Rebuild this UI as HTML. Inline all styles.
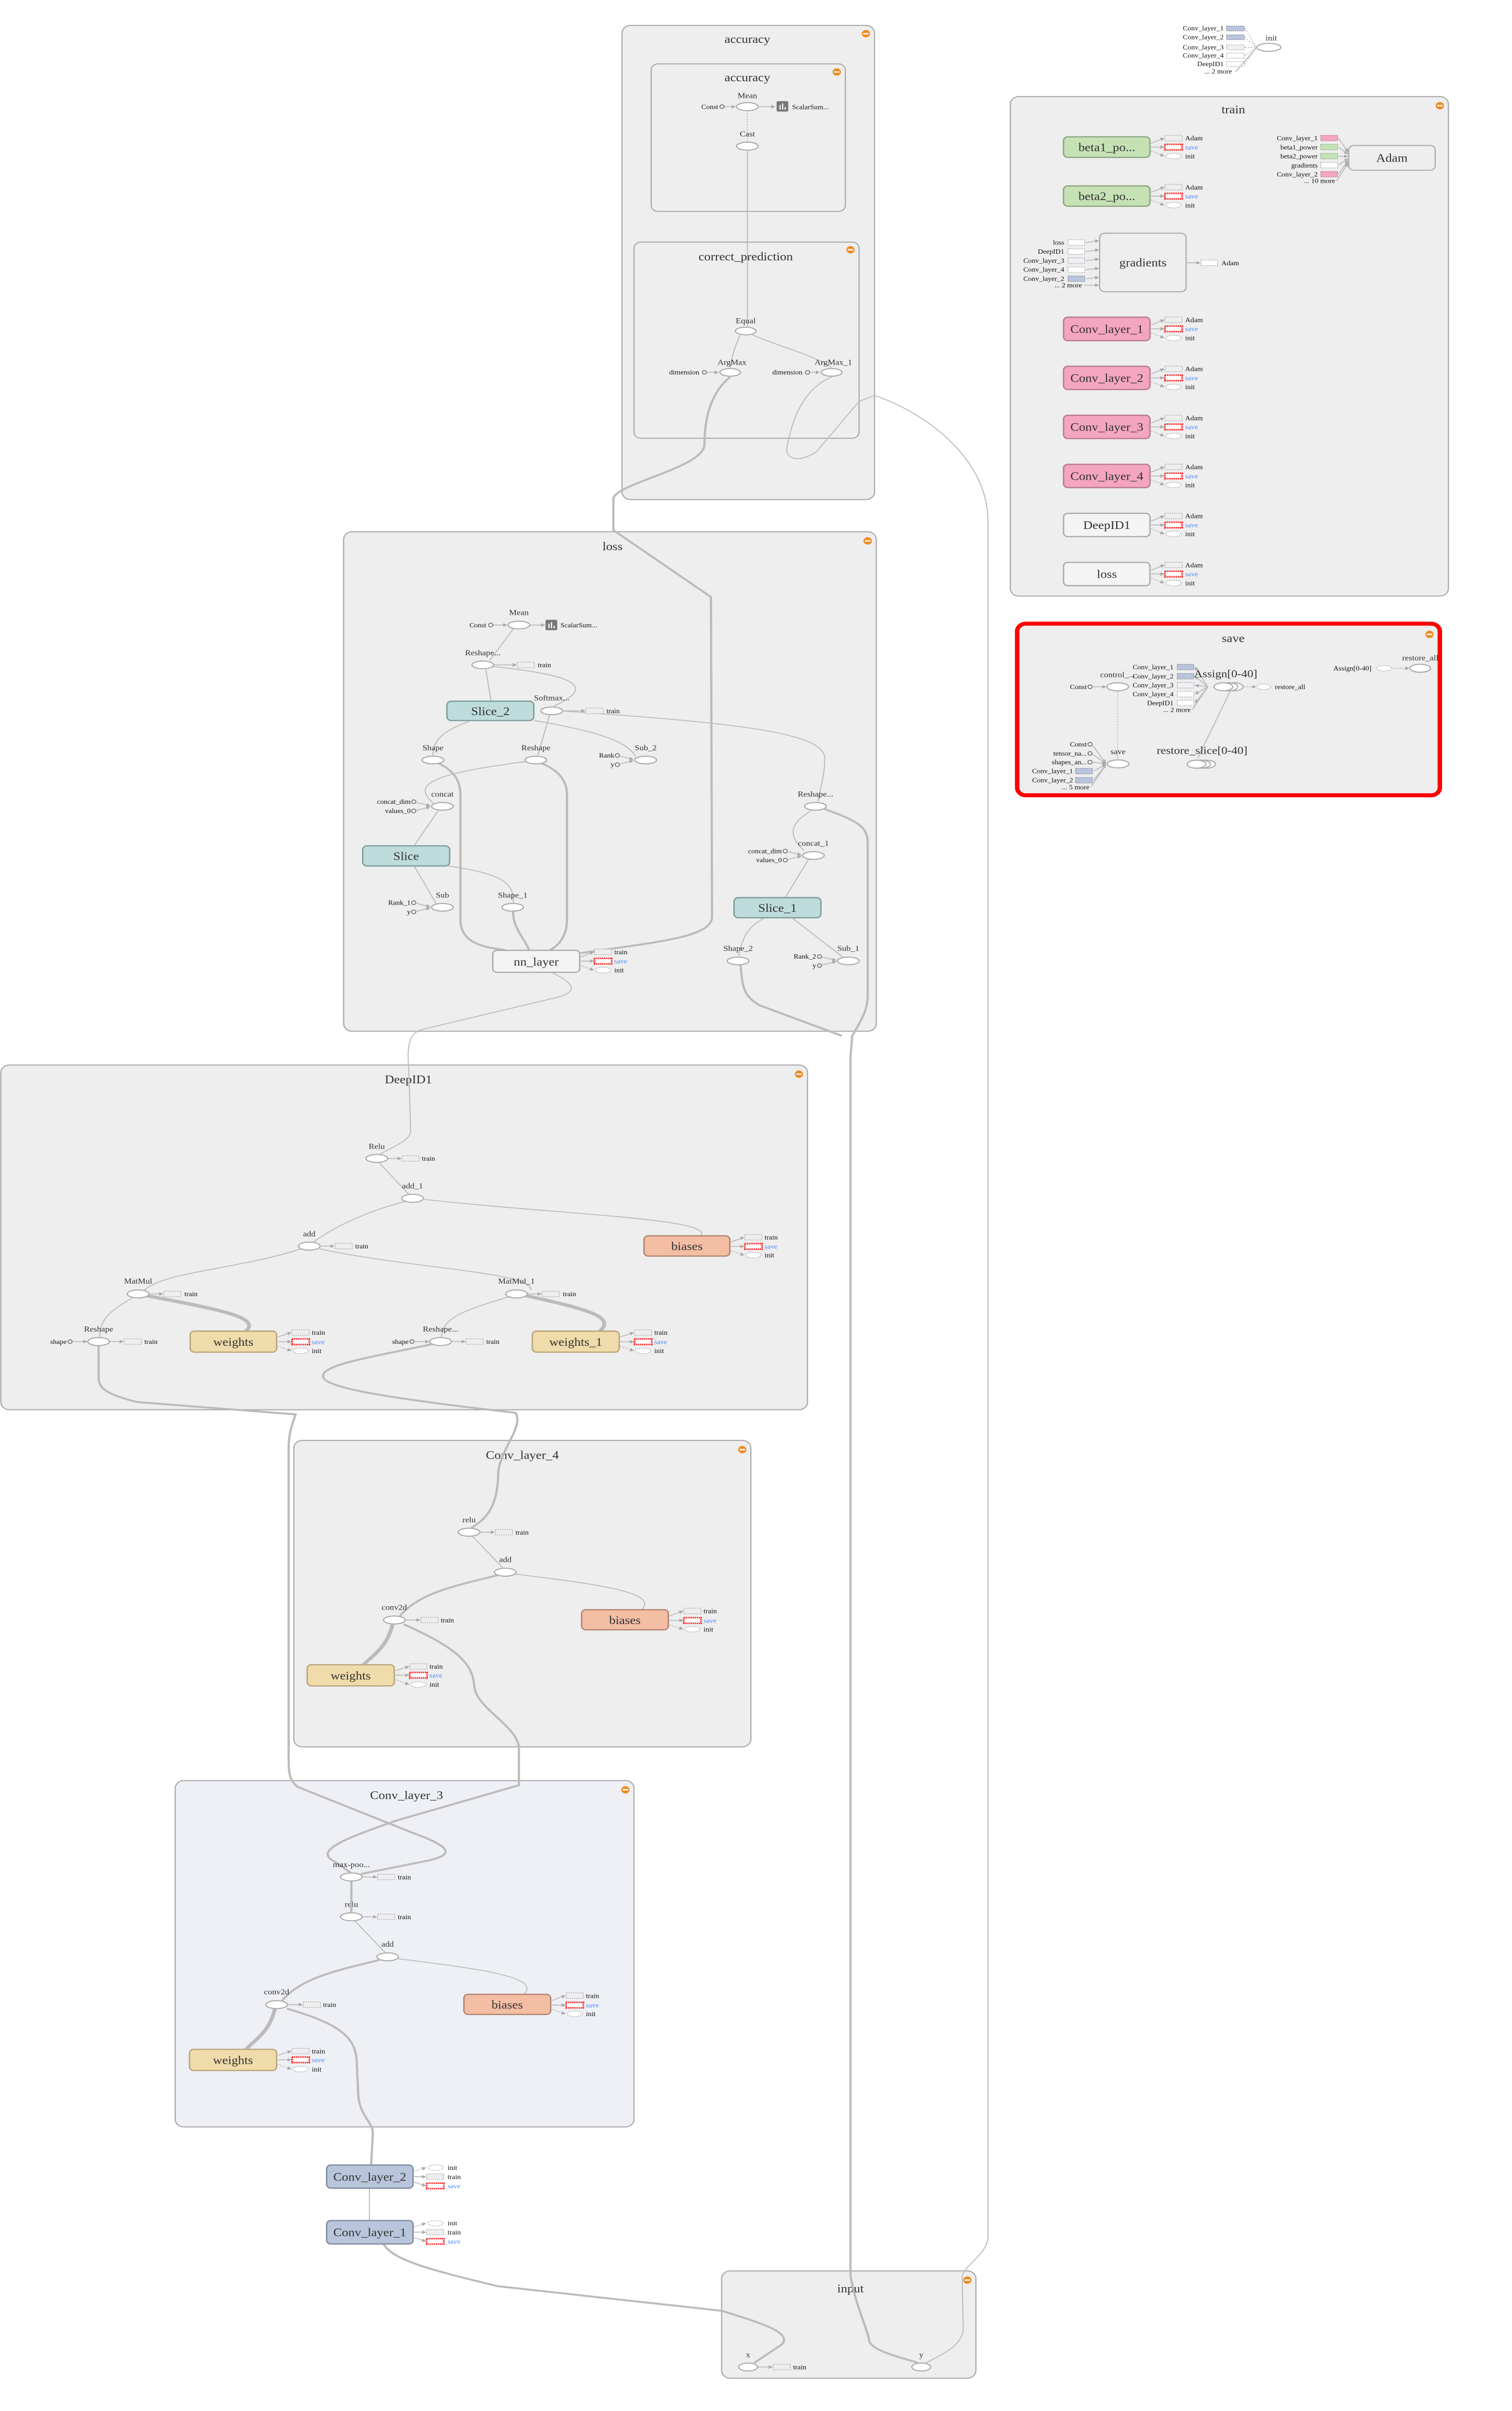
<!DOCTYPE html>
<html><head><meta charset="utf-8"><style>
html,body{margin:0;padding:0;background:#fff;width:100%;height:100%;overflow:hidden}
svg{display:block;position:fixed;left:0;top:0;width:100vw;height:100vh}
.c{fill:#eee;stroke:#aaa;stroke-width:0.7}
.e{fill:#fff;stroke:#aaa;stroke-width:0.7}
.k{fill:#fff;stroke:#777;stroke-width:0.6}
.ed{fill:none;stroke:#bbb;stroke-width:0.6}
.tk{fill:none;stroke:#bbb;stroke-width:1.3}
.tk2{fill:none;stroke:#bbb;stroke-width:2.2}
.dsh{fill:none;stroke:#bbb;stroke-width:0.5;stroke-dasharray:1 0.8}
text{font-family:"Liberation Serif",serif;fill:#333}
.T{font-size:7.5px;text-anchor:middle}
.L{font-size:5px;text-anchor:middle}
.s{font-size:4.2px;fill:#111}
.r{font-size:4.2px;fill:#111;text-anchor:end}
.sv{font-size:4.2px;fill:#4a8af4}
.B{font-size:7.5px;text-anchor:middle}
.db{fill:#eee;stroke:#aaa;stroke-width:0.4;stroke-dasharray:0.8 0.5}
.svb{fill:#fff;stroke:#f00;stroke-width:1;stroke-dasharray:0.6 0.5}
.de{fill:#fff;stroke:#aaa;stroke-width:0.4;stroke-dasharray:0.8 0.5}
.gr{fill:#c6e2b5;stroke:#8aa57d;stroke-width:0.8}
.pk{fill:#f4a5bf;stroke:#b77a8e;stroke-width:0.8}
.tl{fill:#bfdcdc;stroke:#7c9c9c;stroke-width:0.8}
.tn{fill:#f0dbaa;stroke:#b8a478;stroke-width:0.8}
.sa{fill:#f4bea4;stroke:#b08470;stroke-width:0.8}
.bg{fill:#b9c5dc;stroke:#7f8aa0;stroke-width:0.8}
.wh{fill:#f4f4f4;stroke:#aaa;stroke-width:0.8}
</style></head><body>
<svg viewBox="0 0 880 1573.4" preserveAspectRatio="none" xmlns="http://www.w3.org/2000/svg">
<defs>
<marker id="a" viewBox="0 0 10 10" refX="9" refY="5" markerWidth="4" markerHeight="4" orient="auto"><path d="M0,0L10,5L0,10z" fill="#aaa"/></marker>
<g id="m"><circle r="2.4" fill="#ef8a22"/><rect x="-1.6" y="-0.45" width="3.2" height="0.9" fill="#fff"/></g>
</defs>

<rect class="c" x="362" y="16.6" width="147" height="309.4" rx="5"/>
<use href="#m" x="504" y="22"/>
<text class="T" x="435" y="28">accuracy</text>
<rect class="c" x="379" y="41.7" width="113" height="96.3" rx="4"/>
<use href="#m" x="487" y="47"/>
<text class="T" x="435" y="53">accuracy</text>
<rect class="c" x="369" y="158" width="131" height="128" rx="4"/>
<use href="#m" x="495" y="163"/>
<text class="T" x="434" y="170">correct_prediction</text>

<rect class="c" x="200" y="347" width="310" height="326" rx="5"/>
<use href="#m" x="505" y="353"/>
<text class="T" x="356.5" y="359">loss</text>

<rect class="c" x="588" y="63" width="255" height="326" rx="5"/>
<use href="#m" x="838" y="69"/>
<text class="T" x="717.8" y="74">train</text>

<rect x="592" y="407" width="246" height="112" rx="5" fill="#eee" stroke="#f00" stroke-width="2.6"/>
<use href="#m" x="832" y="414"/>
<text class="T" x="717.7" y="419">save</text>

<rect class="c" x="0.5" y="695" width="469.5" height="225" rx="5"/>
<use href="#m" x="465" y="701"/>
<text class="T" x="237.7" y="707">DeepID1</text>

<rect class="c" x="171" y="940" width="266" height="200" rx="5"/>
<use href="#m" x="432" y="946"/>
<text class="T" x="304" y="952">Conv_layer_4</text>

<rect x="102" y="1162" width="267" height="226" rx="5" fill="#eef0f5" stroke="#aaa" stroke-width="0.7"/>
<use href="#m" x="364" y="1168"/>
<text class="T" x="236.6" y="1174">Conv_layer_3</text>

<rect class="c" x="420" y="1482" width="148" height="70" rx="5"/>
<use href="#m" x="563" y="1488"/>
<text class="T" x="495" y="1496">input</text>

<path class="tk" d="M425,246 C415,255 410,270 410,290 C410,305 360,315 357,325 L357,346 L413.8,389.6 L414.4,598.6 C414,612 380,615 338,622"/>
<path class="ed" d="M484,246 C465,255 460,280 458,292 C457,300 465,302 475,295 L500,262 L509,258 C540,270 575,300 575,340 L575,1460 C575,1470 562,1478 560,1485 L560.6,1520 C560,1532 545,1538 539,1542"/>
<path class="dsh" d="M435,72 L435,93"/>
<path class="ed" d="M435,98 L435,213"/>
<path class="tk" d="M480,528 C500,536 505,540 505,550 L505,650 C505,660 500,668 496,676 L495,690 L495,1485 C498,1505 505,1520 506,1528 C508,1535 530,1540 534,1542"/>
<path class="tk" d="M431,629 C432,645 433,650 442,656 L490,676"/>
<path class="ed" d="M321,634.6 C335,642 338,648 320,652 L245,672 C237,675 237,685 238,700 L239,738 C239,745 225,750 220,754"/>
<path class="tk" d="M57.4,878 L57.4,899 C57.4,906 62,910 80,915 L172,923 C170,930 168,935 168,945 L168,1150 C168,1160 170,1163 173,1166 L240,1196 C262,1205 265,1210 250,1214 L210,1223"/>
<path class="tk" d="M252,877 C220,885 188,890 188,898 C188,906 230,913 300,922 C305,930 292,945 290,960 C290,985 282,992 273,998"/>
<path class="tk" d="M235,1060 C265,1075 275,1085 276,1100 C277,1115 300,1125 302,1140 L302,1165 L231,1188 C200,1200 182,1208 195,1215 L204,1222"/>
<path class="tk" d="M167,1310.8 C195,1320 207,1328 207.6,1345 L208.5,1367 C209,1380 217,1385 217,1392 L216,1413"/>
<path class="ed" d="M215,1428 L215,1449"/>
<path class="tk" d="M223,1464 C228,1474 245,1480 290,1492 L420,1508 C440,1515 462,1522 455,1530 L439,1542"/>

<text class="L" x="435" y="64">Mean</text>
<line class="ed" x1="421.5" y1="69.6" x2="428" y2="69.6" marker-end="url(#a)"/>
<line class="ed" x1="441.5" y1="69.6" x2="451" y2="69.6" marker-end="url(#a)"/>
<ellipse class="e" cx="435" cy="69.6" rx="6.3" ry="2.6"/>
<text class="r" x="418" y="71.2">Const</text><circle class="k" cx="420.2" cy="69.6" r="1.2"/>
<rect x="452" y="66" width="6.8" height="6.8" rx="0.8" fill="#777"/>
<path d="M454,71.5v-3M455.5,71.5v-4M457,71.5v-1.6" stroke="#fff" stroke-width="0.7"/>
<text class="s" x="461" y="71.3">ScalarSum...</text>
<text class="L" x="435" y="89">Cast</text>
<ellipse class="e" cx="435" cy="95.4" rx="6.3" ry="2.6"/>
<text class="L" x="434" y="211">Equal</text>
<ellipse class="e" cx="434" cy="216" rx="6" ry="2.5"/>
<path class="ed" d="M431,218 C428,225 426,232 425,240"/>
<path class="ed" d="M437,218 C450,225 475,232 484,240"/>
<text class="L" x="426" y="238">ArgMax</text>
<ellipse class="e" cx="425" cy="243" rx="6" ry="2.5"/>
<text class="r" x="407" y="244.4">dimension</text><circle class="k" cx="410" cy="243" r="1.2"/>
<line class="ed" x1="411.3" y1="243" x2="418" y2="243" marker-end="url(#a)"/>
<text class="L" x="485" y="238">ArgMax_1</text>
<ellipse class="e" cx="484" cy="243" rx="6" ry="2.5"/>
<text class="r" x="467" y="244.4">dimension</text><circle class="k" cx="470" cy="243" r="1.2"/>
<line class="ed" x1="471.3" y1="243" x2="477" y2="243" marker-end="url(#a)"/>

<path class="ed" d="M299,410 L285,431"/>
<path class="ed" d="M282.8,437 L285.8,457.6"/>
<path class="ed" d="M287,435 C330,440 350,447 322,461"/>
<path class="ed" d="M272.7,470.9 C255,478 252,485 252,493"/>
<path class="ed" d="M320,466 L313,493"/>
<path class="ed" d="M311,470.2 C340,476 365,482 370,494"/>
<path class="ed" d="M328,464 C430,472 480,478 480,495 C480,505 478,512 476,523"/>
<path class="tk" d="M255.6,498.3 C268,505 268,515 268,520 L268,600 C268,615 280,618 294,620"/>
<path class="ed" d="M306,497 C250,505 240,512 252,524"/>
<path class="tk" d="M315,498 C330,505 330,515 330,520 L330,600 C330,612 324,618 320,620"/>
<path class="ed" d="M255,529 L241,552"/>
<path class="ed" d="M241,565 L254,590"/>
<path class="ed" d="M260.7,565.1 C290,570 300,575 298.7,590"/>
<path class="tk" d="M298.7,594 C298,605 305,612 308,620"/>
<path class="ed" d="M472.2,529 C460,537 458,545 468,555"/>
<path class="ed" d="M471,560 L457,585.8"/>
<path class="ed" d="M445,598.9 C435,605 432,612 430,624"/>
<path class="ed" d="M461,599 L491,625"/>

<text class="L" x="302" y="401.4">Mean</text>
<line class="ed" x1="286.8" y1="407.9" x2="295" y2="407.9" marker-end="url(#a)"/>
<line class="ed" x1="308.5" y1="407.9" x2="317" y2="407.9" marker-end="url(#a)"/>
<ellipse class="e" cx="302" cy="407.9" rx="6.3" ry="2.5"/>
<text class="r" x="283" y="409.4">Const</text><circle class="k" cx="285.6" cy="407.9" r="1.2"/>
<rect x="317.5" y="404.5" width="6.8" height="6.8" rx="0.8" fill="#777"/>
<path d="M319.5,410v-3M321,410v-4M322.5,410v-1.6" stroke="#fff" stroke-width="0.7"/>
<text class="s" x="326.2" y="409.4">ScalarSum...</text>

<text class="L" x="281" y="427.6">Reshape...</text>
<ellipse class="e" cx="281" cy="433.9" rx="6.3" ry="2.5"/>
<line class="ed" x1="287.5" y1="433.9" x2="300.5" y2="433.9" marker-end="url(#a)"/>
<rect class="db" x="301" y="432.1" width="10" height="3.6"/><text class="s" x="313" y="435.4">train</text>

<rect class="tl" x="260.1" y="457.6" width="50.6" height="12.6" rx="2.5"/>
<text class="B" x="285.4" y="466.6">Slice_2</text>
<text class="L" x="321.1" y="457.1">Softmax...</text>
<ellipse class="e" cx="321.1" cy="463.9" rx="6.3" ry="2.5"/>
<line class="ed" x1="327.5" y1="463.9" x2="340.5" y2="463.9" marker-end="url(#a)"/>
<rect class="db" x="341" y="462.1" width="10" height="3.6"/><text class="s" x="353" y="465.4">train</text>

<text class="L" x="252" y="489.7">Shape</text><ellipse class="e" cx="252" cy="496" rx="6.3" ry="2.5"/>
<text class="L" x="311.9" y="489.7">Reshape</text><ellipse class="e" cx="311.9" cy="496" rx="6.3" ry="2.5"/>
<text class="L" x="375.8" y="489.7">Sub_2</text><ellipse class="e" cx="375.8" cy="496" rx="6.3" ry="2.5"/>
<text class="r" x="357.5" y="494.4">Rank</text><circle class="k" cx="359.3" cy="493" r="1.2"/>
<text class="r" x="357.5" y="500.4">y</text><circle class="k" cx="359.3" cy="499" r="1.2"/>
<line class="ed" x1="360.5" y1="493.3" x2="368.5" y2="495.6" marker-end="url(#a)"/>
<line class="ed" x1="360.5" y1="498.7" x2="368.5" y2="496.4" marker-end="url(#a)"/>

<text class="L" x="257.5" y="519.9">concat</text><ellipse class="e" cx="257.5" cy="526.2" rx="6.3" ry="2.5"/>
<text class="r" x="239" y="524.6">concat_dim</text><circle class="k" cx="240.8" cy="523.2" r="1.2"/>
<text class="r" x="239" y="530.6">values_0</text><circle class="k" cx="240.8" cy="529.2" r="1.2"/>
<line class="ed" x1="242" y1="523.5" x2="250.3" y2="525.8" marker-end="url(#a)"/>
<line class="ed" x1="242" y1="528.9" x2="250.3" y2="526.6" marker-end="url(#a)"/>

<rect class="tl" x="211.1" y="552" width="50.6" height="13.1" rx="2.5"/>
<text class="B" x="236.4" y="561.3">Slice</text>

<text class="L" x="257.5" y="585.8">Sub</text><ellipse class="e" cx="257.5" cy="592.1" rx="6.3" ry="2.5"/>
<text class="r" x="239" y="590.5">Rank_1</text><circle class="k" cx="240.8" cy="589.1" r="1.2"/>
<text class="r" x="239" y="596.5">y</text><circle class="k" cx="240.8" cy="595.1" r="1.2"/>
<line class="ed" x1="242" y1="589.4" x2="250.3" y2="591.7" marker-end="url(#a)"/>
<line class="ed" x1="242" y1="594.8" x2="250.3" y2="592.5" marker-end="url(#a)"/>
<text class="L" x="298.4" y="585.8">Shape_1</text><ellipse class="e" cx="298.4" cy="592.1" rx="6.3" ry="2.5"/>

<rect class="wh" x="286.8" y="620.2" width="50.6" height="14.3" rx="2.5"/>
<text class="B" x="312.1" y="630.2">nn_layer</text>
<line class="ed" x1="338" y1="624.5" x2="345.5" y2="621.2" marker-end="url(#a)"/>
<line class="ed" x1="338" y1="627.2" x2="345.5" y2="627.2" marker-end="url(#a)"/>
<line class="ed" x1="338" y1="630" x2="345.5" y2="633.1" marker-end="url(#a)" stroke-dasharray="0.8 0.6"/>
<rect class="db" x="346" y="619.4" width="10" height="3.6"/><text class="s" x="357.5" y="622.7">train</text>
<rect class="svb" x="346" y="625.4" width="10" height="3.6"/><text class="sv" x="357.5" y="628.7">save</text>
<ellipse class="de" cx="351" cy="633.1" rx="4.5" ry="1.8"/><text class="s" x="357.5" y="634.6">init</text>

<text class="L" x="474.6" y="519.9">Reshape...</text><ellipse class="e" cx="474.6" cy="526.2" rx="6.3" ry="2.5"/>
<text class="L" x="473.4" y="552">concat_1</text><ellipse class="e" cx="473.4" cy="558.3" rx="6.3" ry="2.5"/>
<text class="r" x="455" y="556.8">concat_dim</text><circle class="k" cx="457" cy="555.4" r="1.2"/>
<text class="r" x="455" y="562.7">values_0</text><circle class="k" cx="457" cy="561.3" r="1.2"/>
<line class="ed" x1="458.2" y1="555.7" x2="466.3" y2="557.9" marker-end="url(#a)"/>
<line class="ed" x1="458.2" y1="561" x2="466.3" y2="558.7" marker-end="url(#a)"/>
<rect class="tl" x="427.2" y="585.8" width="50.6" height="13.1" rx="2.5"/>
<text class="B" x="452.5" y="595.1">Slice_1</text>
<text class="L" x="429.6" y="620.6">Shape_2</text><ellipse class="e" cx="429.6" cy="627.1" rx="6.3" ry="2.5"/>
<text class="L" x="493.7" y="620.6">Sub_1</text><ellipse class="e" cx="493.7" cy="627.1" rx="6.3" ry="2.5"/>
<text class="r" x="475" y="625.6">Rank_2</text><circle class="k" cx="477" cy="624.2" r="1.2"/>
<text class="r" x="475" y="631.5">y</text><circle class="k" cx="477" cy="630.1" r="1.2"/>
<line class="ed" x1="478.2" y1="624.5" x2="486.6" y2="626.7" marker-end="url(#a)"/>
<line class="ed" x1="478.2" y1="629.8" x2="486.6" y2="627.5" marker-end="url(#a)"/>

<path class="ed" d="M220,758 L238,779.5"/>
<path class="ed" d="M236,784 C215,790 195,800 182,811"/>
<path class="ed" d="M246.9,782.7 C330,793 415,795 408,806.5"/>
<path class="ed" d="M175,815 C140,828 95,830 84,842"/>
<path class="ed" d="M186,815 C240,828 310,830 309,842"/>
<path class="ed" d="M77,847 C65,855 58,860 58,873"/>
<path class="tk2" d="M85,845.5 C130,855 152,860 143,868.7"/>
<path class="ed" d="M297,846 C270,855 257,860 257,873"/>
<path class="tk2" d="M306,845.5 C345,855 358,860 349,868.7"/>

<text class="L" x="219.3" y="749.7">Relu</text><ellipse class="e" cx="219.3" cy="756" rx="6.3" ry="2.6"/>
<line class="ed" x1="225.7" y1="756" x2="233.5" y2="756" marker-end="url(#a)"/>
<rect class="db" x="234" y="754.2" width="10" height="3.6"/><text class="s" x="245.5" y="757.5">train</text>
<text class="L" x="240.1" y="775.5">add_1</text><ellipse class="e" cx="240.1" cy="782" rx="6.3" ry="2.6"/>
<text class="L" x="180" y="806.8">add</text><ellipse class="e" cx="180" cy="813.2" rx="6.3" ry="2.6"/>
<line class="ed" x1="186.4" y1="813.2" x2="194.5" y2="813.2" marker-end="url(#a)"/>
<rect class="db" x="195" y="811.4" width="10" height="3.6"/><text class="s" x="206.7" y="814.7">train</text>

<rect class="sa" x="374.8" y="806.5" width="50" height="13.2" rx="2.5"/>
<text class="B" x="399.8" y="815.8">biases</text>
<line class="ed" x1="425.5" y1="810.5" x2="433" y2="807.4" marker-end="url(#a)"/>
<line class="ed" x1="425.5" y1="813.4" x2="433" y2="813.4" marker-end="url(#a)"/>
<line class="ed" x1="425.5" y1="816.3" x2="433" y2="819.1" marker-end="url(#a)" stroke-dasharray="0.8 0.6"/>
<rect class="db" x="433.5" y="805.6" width="10" height="3.6"/><text class="s" x="445" y="808.9">train</text>
<rect class="svb" x="433.5" y="811.6" width="10" height="3.6"/><text class="sv" x="445" y="814.9">save</text>
<ellipse class="de" cx="438.5" cy="819.1" rx="4.5" ry="1.8"/><text class="s" x="445" y="820.6">init</text>

<text class="L" x="80.4" y="837.7">MatMul</text><ellipse class="e" cx="80.4" cy="844.4" rx="6.3" ry="2.6"/>
<line class="ed" x1="86.8" y1="844.4" x2="94.8" y2="844.4" marker-end="url(#a)"/>
<rect class="db" x="95.3" y="842.6" width="10" height="3.6"/><text class="s" x="107.3" y="845.9">train</text>
<text class="L" x="300.6" y="837.7">MatMul_1</text><ellipse class="e" cx="300.6" cy="844.4" rx="6.3" ry="2.6"/>
<line class="ed" x1="307" y1="844.4" x2="315" y2="844.4" marker-end="url(#a)"/>
<rect class="db" x="315.5" y="842.6" width="10" height="3.6"/><text class="s" x="327.6" y="845.9">train</text>

<text class="L" x="57.4" y="869">Reshape</text><ellipse class="e" cx="57.4" cy="875.5" rx="6.3" ry="2.6"/>
<text class="r" x="38.8" y="877">shape</text><circle class="k" cx="40.8" cy="875.5" r="1.2"/>
<line class="ed" x1="42" y1="875.5" x2="50.6" y2="875.5" marker-end="url(#a)"/>
<line class="ed" x1="63.8" y1="875.5" x2="71.8" y2="875.5" marker-end="url(#a)"/>
<rect class="db" x="72.3" y="873.7" width="10" height="3.6"/><text class="s" x="84" y="877">train</text>

<rect class="tn" x="110.7" y="868.7" width="50.3" height="13.7" rx="2.5"/>
<text class="B" x="135.8" y="878.2">weights</text>
<line class="ed" x1="161.7" y1="872.5" x2="169.5" y2="869.6" marker-end="url(#a)"/>
<line class="ed" x1="161.7" y1="875.6" x2="169.5" y2="875.6" marker-end="url(#a)"/>
<line class="ed" x1="161.7" y1="878.6" x2="169.5" y2="881.5" marker-end="url(#a)" stroke-dasharray="0.8 0.6"/>
<rect class="db" x="170" y="867.8" width="10" height="3.6"/><text class="s" x="181.5" y="871.1">train</text>
<rect class="svb" x="170" y="873.8" width="10" height="3.6"/><text class="sv" x="181.5" y="877.1">save</text>
<ellipse class="de" cx="175" cy="881.5" rx="4.5" ry="1.8"/><text class="s" x="181.5" y="883">init</text>

<text class="L" x="256.4" y="869">Reshape...</text><ellipse class="e" cx="256.4" cy="875.5" rx="6.3" ry="2.6"/>
<text class="r" x="237.8" y="877">shape</text><circle class="k" cx="239.8" cy="875.5" r="1.2"/>
<line class="ed" x1="241" y1="875.5" x2="249.6" y2="875.5" marker-end="url(#a)"/>
<line class="ed" x1="262.8" y1="875.5" x2="270.8" y2="875.5" marker-end="url(#a)"/>
<rect class="db" x="271.3" y="873.7" width="10" height="3.6"/><text class="s" x="283" y="877">train</text>

<rect class="tn" x="309.8" y="868.7" width="50.6" height="13.7" rx="2.5"/>
<text class="B" x="335.1" y="878.2">weights_1</text>
<line class="ed" x1="361" y1="872.5" x2="368.8" y2="869.6" marker-end="url(#a)"/>
<line class="ed" x1="361" y1="875.6" x2="368.8" y2="875.6" marker-end="url(#a)"/>
<line class="ed" x1="361" y1="878.6" x2="368.8" y2="881.5" marker-end="url(#a)" stroke-dasharray="0.8 0.6"/>
<rect class="db" x="369.3" y="867.8" width="10" height="3.6"/><text class="s" x="380.8" y="871.1">train</text>
<rect class="svb" x="369.3" y="873.8" width="10" height="3.6"/><text class="sv" x="380.8" y="877.1">save</text>
<ellipse class="de" cx="374.3" cy="881.5" rx="4.5" ry="1.8"/><text class="s" x="380.8" y="883">init</text>

<g id="cv">
<path class="ed" d="M206,1253 L224,1274"/>
<path class="tk" d="M221,1279 C200,1285 175,1290 164,1306"/>
<path class="ed" d="M230,1278 C280,1285 315,1290 305,1301.5"/>
<path class="tk2" d="M160,1311 C157,1325 150,1330 143,1337.4"/>
<text class="L" x="204.5" y="1244.4">relu</text><ellipse class="e" cx="204.5" cy="1250.9" rx="6.3" ry="2.6"/>
<line class="ed" x1="210.9" y1="1250.9" x2="219.3" y2="1250.9" marker-end="url(#a)"/>
<rect class="db" x="219.8" y="1249.1" width="10" height="3.6"/><text class="s" x="231.5" y="1252.4">train</text>
<text class="L" x="225.6" y="1270.4">add</text><ellipse class="e" cx="225.6" cy="1277" rx="6.3" ry="2.6"/>
<text class="L" x="161" y="1301.5">conv2d</text><ellipse class="e" cx="161" cy="1308.2" rx="6.3" ry="2.6"/>
<line class="ed" x1="167.4" y1="1308.2" x2="176" y2="1308.2" marker-end="url(#a)"/>
<rect class="db" x="176.5" y="1306.4" width="10" height="3.6"/><text class="s" x="188" y="1309.7">train</text>
<rect class="sa" x="270" y="1301.5" width="50.5" height="13.1" rx="2.5"/>
<text class="B" x="295.2" y="1310.8">biases</text>
<line class="ed" x1="321.2" y1="1305.5" x2="329" y2="1302.3" marker-end="url(#a)"/>
<line class="ed" x1="321.2" y1="1308.5" x2="329" y2="1308.5" marker-end="url(#a)"/>
<line class="ed" x1="321.2" y1="1311.4" x2="329" y2="1314.2" marker-end="url(#a)" stroke-dasharray="0.8 0.6"/>
<rect class="db" x="329.5" y="1300.5" width="10" height="3.6"/><text class="s" x="341" y="1303.8">train</text>
<rect class="svb" x="329.5" y="1306.7" width="10" height="3.6"/><text class="sv" x="341" y="1310">save</text>
<ellipse class="de" cx="334.5" cy="1314.2" rx="4.5" ry="1.8"/><text class="s" x="341" y="1315.7">init</text>
<rect class="tn" x="110.3" y="1337.4" width="50.7" height="13.8" rx="2.5"/>
<text class="B" x="135.6" y="1347">weights</text>
<line class="ed" x1="161.7" y1="1341.3" x2="169.5" y2="1338.5" marker-end="url(#a)"/>
<line class="ed" x1="161.7" y1="1344.2" x2="169.5" y2="1344.2" marker-end="url(#a)"/>
<line class="ed" x1="161.7" y1="1347.2" x2="169.5" y2="1350.3" marker-end="url(#a)" stroke-dasharray="0.8 0.6"/>
<rect class="db" x="170" y="1336.7" width="10" height="3.6"/><text class="s" x="181.5" y="1340">train</text>
<rect class="svb" x="170" y="1342.4" width="10" height="3.6"/><text class="sv" x="181.5" y="1345.7">save</text>
<ellipse class="de" cx="175" cy="1350.3" rx="4.5" ry="1.8"/><text class="s" x="181.5" y="1351.8">init</text>
</g>
<path class="tk" d="M204.5,1227.5 L204.5,1248.3"/>
<text class="L" x="204.5" y="1218.4">max-poo...</text><ellipse class="e" cx="204.5" cy="1224.9" rx="6.3" ry="2.6"/>
<line class="ed" x1="210.9" y1="1224.9" x2="219.3" y2="1224.9" marker-end="url(#a)"/>
<rect class="db" x="219.8" y="1223.1" width="10" height="3.6"/><text class="s" x="231.5" y="1226.4">train</text>

<use href="#cv" x="68.5" y="-251"/>

<rect class="bg" x="190.1" y="1412.9" width="50.3" height="15.1" rx="2.5"/>
<text class="B" x="215.2" y="1423.1">Conv_layer_2</text>
<line class="ed" x1="241" y1="1417" x2="247.8" y2="1414.6" marker-end="url(#a)" stroke-dasharray="0.8 0.6"/>
<line class="ed" x1="241" y1="1420.5" x2="247.8" y2="1420.5" marker-end="url(#a)"/>
<line class="ed" x1="241" y1="1424" x2="247.8" y2="1426.5" marker-end="url(#a)"/>
<ellipse class="de" cx="253.5" cy="1414.6" rx="4.5" ry="1.8"/><text class="s" x="260.5" y="1416">init</text>
<rect class="db" x="248.3" y="1418.7" width="10" height="3.6"/><text class="s" x="260.5" y="1422">train</text>
<rect class="svb" x="248.3" y="1424.7" width="10" height="3.6"/><text class="sv" x="260.5" y="1428">save</text>

<rect class="bg" x="190.1" y="1449.1" width="50.3" height="15.3" rx="2.5"/>
<text class="B" x="215.2" y="1459.4">Conv_layer_1</text>
<line class="ed" x1="241" y1="1453.2" x2="247.8" y2="1450.9" marker-end="url(#a)" stroke-dasharray="0.8 0.6"/>
<line class="ed" x1="241" y1="1456.7" x2="247.8" y2="1456.7" marker-end="url(#a)"/>
<line class="ed" x1="241" y1="1460.2" x2="247.8" y2="1462.7" marker-end="url(#a)"/>
<ellipse class="de" cx="253.5" cy="1450.9" rx="4.5" ry="1.8"/><text class="s" x="260.5" y="1452.3">init</text>
<rect class="db" x="248.3" y="1454.9" width="10" height="3.6"/><text class="s" x="260.5" y="1458.2">train</text>
<rect class="svb" x="248.3" y="1460.9" width="10" height="3.6"/><text class="sv" x="260.5" y="1464.2">save</text>

<text class="L" x="435.4" y="1538.3">x</text><ellipse class="e" cx="435.4" cy="1544.7" rx="5.5" ry="2.6"/>
<line class="ed" x1="441" y1="1544.7" x2="449.5" y2="1544.7" marker-end="url(#a)"/>
<rect class="db" x="450" y="1542.9" width="10" height="3.6"/><text class="s" x="461.6" y="1546.2">train</text>
<text class="L" x="536.2" y="1538.3">y</text><ellipse class="e" cx="536.2" cy="1544.7" rx="5.5" ry="2.6"/>

<g id="tr">
<line class="ed" x1="670" y1="93.5" x2="677.5" y2="90.1" marker-end="url(#a)"/>
<line class="ed" x1="670" y1="96" x2="677.5" y2="96" marker-end="url(#a)"/>
<line class="ed" x1="670" y1="98.5" x2="677.5" y2="101.9" marker-end="url(#a)" stroke-dasharray="0.8 0.6"/>
<rect class="db" x="678" y="88.3" width="10" height="3.6"/><text class="s" x="689.8" y="91.6">Adam</text>
<rect class="svb" x="678" y="94.2" width="10" height="3.6"/><text class="sv" x="689.8" y="97.5">save</text>
<ellipse class="de" cx="683" cy="101.9" rx="4.5" ry="1.8"/><text class="s" x="689.8" y="103.4">init</text>
</g>
<rect class="gr" x="619" y="89.3" width="50.3" height="13.4" rx="2.5"/>
<text class="B" x="644.2" y="98.6">beta1_po...</text>
<rect class="gr" x="619" y="121.3" width="50.3" height="13.3" rx="2.5"/>
<text class="B" x="644.2" y="130.6">beta2_po...</text>
<use href="#tr" y="32"/>
<rect class="pk" x="619" y="207" width="50.3" height="15.3" rx="2.5"/>
<text class="B" x="644.2" y="217.3">Conv_layer_1</text>
<use href="#tr" y="118.6"/>
<rect class="pk" x="619" y="239" width="50.3" height="15.2" rx="2.5"/>
<text class="B" x="644.2" y="249.2">Conv_layer_2</text>
<use href="#tr" y="150.6"/>
<rect class="pk" x="619" y="271" width="50.3" height="15.2" rx="2.5"/>
<text class="B" x="644.2" y="281.2">Conv_layer_3</text>
<use href="#tr" y="182.6"/>
<rect class="pk" x="619" y="303" width="50.3" height="15.2" rx="2.5"/>
<text class="B" x="644.2" y="313.2">Conv_layer_4</text>
<use href="#tr" y="214.6"/>
<rect class="wh" x="619" y="335" width="50.3" height="15.2" rx="2.5"/>
<text class="B" x="644.2" y="345.2">DeepID1</text>
<use href="#tr" y="246.6"/>
<rect class="wh" x="619" y="367" width="50.3" height="15.2" rx="2.5"/>
<text class="B" x="644.2" y="377.2">loss</text>
<use href="#tr" y="278.6"/>

<rect class="c" x="640" y="152.2" width="50.3" height="38.2" rx="3"/>
<text class="B" x="665.2" y="173.8">gradients</text>
<g>
<text class="r" x="619.4" y="159.7">loss</text><rect class="de" x="621.6" y="156.5" width="9.7" height="3.6"/>
<text class="r" x="619.4" y="165.6">DeepID1</text><rect class="de" x="621.6" y="162.4" width="9.7" height="3.6"/>
<text class="r" x="619.4" y="171.5">Conv_layer_3</text><rect x="621.6" y="168.3" width="9.7" height="3.6" fill="#eef0f5" stroke="#aaa" stroke-width="0.4" stroke-dasharray="0.8 0.5"/>
<text class="r" x="619.4" y="177.4">Conv_layer_4</text><rect class="de" x="621.6" y="174.2" width="9.7" height="3.6"/>
<text class="r" x="619.4" y="183.3">Conv_layer_2</text><rect x="621.6" y="180.1" width="9.7" height="3.6" fill="#b9c5dc" stroke="#889" stroke-width="0.4" stroke-dasharray="0.8 0.5"/>
<text class="r" x="629.7" y="187.6">... 2 more</text>
<line class="ed" x1="632" y1="158.3" x2="639.5" y2="157" marker-end="url(#a)"/>
<line class="ed" x1="632" y1="164.2" x2="639.5" y2="163" marker-end="url(#a)"/>
<line class="ed" x1="632" y1="170.1" x2="639.5" y2="169" marker-end="url(#a)"/>
<line class="ed" x1="632" y1="176" x2="639.5" y2="175" marker-end="url(#a)"/>
<line class="ed" x1="632" y1="181.9" x2="639.5" y2="181" marker-end="url(#a)"/>
<line class="ed" x1="631" y1="186.1" x2="639.5" y2="186.1" marker-end="url(#a)"/>
</g>
<line class="ed" x1="690.8" y1="171.5" x2="698.5" y2="171.5" marker-end="url(#a)"/>
<rect class="de" x="699" y="169.7" width="9.6" height="3.6"/><text class="s" x="710.9" y="173">Adam</text>

<rect class="c" x="785" y="94.9" width="50.3" height="16.2" rx="3"/>
<text class="B" x="810.1" y="105.6">Adam</text>
<text class="r" x="766.9" y="91.6">Conv_layer_1</text><rect x="768.7" y="88.3" width="9.8" height="3.6" fill="#f4a5bf" stroke="#b77a8e" stroke-width="0.4" stroke-dasharray="0.8 0.5"/>
<text class="r" x="766.9" y="97.5">beta1_power</text><rect x="768.7" y="94.2" width="9.8" height="3.6" fill="#c6e2b5" stroke="#8aa57d" stroke-width="0.4" stroke-dasharray="0.8 0.5"/>
<text class="r" x="766.9" y="103.4">beta2_power</text><rect x="768.7" y="100.1" width="9.8" height="3.6" fill="#c6e2b5" stroke="#8aa57d" stroke-width="0.4" stroke-dasharray="0.8 0.5"/>
<text class="r" x="766.9" y="109.3">gradients</text><rect class="de" x="768.7" y="106" width="9.8" height="3.6"/>
<text class="r" x="766.9" y="115.2">Conv_layer_2</text><rect x="768.7" y="111.9" width="9.8" height="3.6" fill="#f4a5bf" stroke="#b77a8e" stroke-width="0.4" stroke-dasharray="0.8 0.5"/>
<text class="r" x="777" y="119.5">... 10 more</text>
<line class="ed" x1="779" y1="90.1" x2="784.5" y2="99" marker-end="url(#a)"/>
<line class="ed" x1="779" y1="96" x2="784.5" y2="100.5" marker-end="url(#a)"/>
<line class="ed" x1="779" y1="101.9" x2="784.5" y2="102" marker-end="url(#a)"/>
<line class="ed" x1="779" y1="107.8" x2="784.5" y2="103.5" marker-end="url(#a)"/>
<line class="ed" x1="779" y1="113.7" x2="784.5" y2="105" marker-end="url(#a)"/>
<line class="ed" x1="778" y1="118" x2="784.5" y2="106.5" marker-end="url(#a)"/>

<path class="dsh" d="M650.5,451 L650.5,495"/>
<line class="ed" x1="716" y1="451" x2="697" y2="495" />
<text class="L" x="650.5" y="442">control_...</text>
<ellipse class="e" cx="650.5" cy="448.2" rx="6.3" ry="2.6"/>
<text class="r" x="632.5" y="449.7">Const</text><circle class="k" cx="634.4" cy="448.2" r="1.2"/>
<line class="ed" x1="635.6" y1="448.2" x2="643.7" y2="448.2" marker-end="url(#a)"/>

<text class="r" x="683" y="436.7">Conv_layer_1</text><rect x="685.2" y="433.5" width="9.6" height="3.6" fill="#b9c5dc" stroke="#889" stroke-width="0.4" stroke-dasharray="0.8 0.5"/>
<text class="r" x="683" y="442.7">Conv_layer_2</text><rect x="685.2" y="439.5" width="9.6" height="3.6" fill="#b9c5dc" stroke="#889" stroke-width="0.4" stroke-dasharray="0.8 0.5"/>
<text class="r" x="683" y="448.6">Conv_layer_3</text><rect x="685.2" y="445.4" width="9.6" height="3.6" fill="#eef0f5" stroke="#aaa" stroke-width="0.4" stroke-dasharray="0.8 0.5"/>
<text class="r" x="683" y="454.4">Conv_layer_4</text><rect class="de" x="685.2" y="451.2" width="9.6" height="3.6"/>
<text class="r" x="683" y="460.2">DeepID1</text><rect class="de" x="685.2" y="457" width="9.6" height="3.6"/>
<text class="r" x="693" y="464.6">... 2 more</text>
<line class="ed" x1="703" y1="448.2" x2="695.5" y2="435.3" marker-end="url(#a)"/>
<line class="ed" x1="703" y1="448.2" x2="695.5" y2="441.3" marker-end="url(#a)"/>
<line class="ed" x1="703" y1="448.2" x2="695.5" y2="447.2" marker-end="url(#a)"/>
<line class="ed" x1="703" y1="448.2" x2="695.5" y2="453" marker-end="url(#a)"/>
<line class="ed" x1="703" y1="448.2" x2="695.5" y2="458.8" marker-end="url(#a)"/>
<line class="ed" x1="703" y1="448.2" x2="694" y2="463"/>
<text x="713.3" y="442" style="font-size:7px;text-anchor:middle">Assign[0-40]</text>
<ellipse class="e" cx="718" cy="448.2" rx="5.5" ry="2.6"/>
<ellipse class="e" cx="715" cy="448.2" rx="5.5" ry="2.6"/>
<ellipse class="e" cx="712" cy="448.2" rx="5.5" ry="2.6"/>
<line class="ed" x1="724" y1="448.2" x2="731" y2="448.2" marker-end="url(#a)" stroke-dasharray="0.8 0.6"/>
<ellipse class="de" cx="735.5" cy="448.2" rx="4" ry="1.8"/><text class="s" x="742" y="449.7">restore_all</text>

<text class="L" x="826.6" y="431">restore_all</text>
<ellipse class="e" cx="826.6" cy="436.1" rx="6" ry="2.6"/>
<text class="r" x="798.2" y="437.6">Assign[0-40]</text>
<ellipse class="de" cx="805.6" cy="436.1" rx="4.5" ry="1.8"/>
<line class="ed" x1="810.5" y1="436.1" x2="820" y2="436.1" marker-end="url(#a)" stroke-dasharray="0.8 0.6"/>

<text class="L" x="650.7" y="492.2">save</text>
<ellipse class="e" cx="650.7" cy="498.5" rx="6.3" ry="2.6"/>
<text class="r" x="632.5" y="487.1">Const</text><circle class="k" cx="634.4" cy="485.7" r="1.2"/>
<text class="r" x="632.5" y="493.1">tensor_na...</text><circle class="k" cx="634.4" cy="491.7" r="1.2"/>
<text class="r" x="632.5" y="498.8">shapes_an...</text><circle class="k" cx="634.4" cy="497.4" r="1.2"/>
<text class="r" x="624.5" y="504.6">Conv_layer_1</text><rect x="626" y="501.4" width="9.8" height="3.6" fill="#b9c5dc" stroke="#889" stroke-width="0.4" stroke-dasharray="0.8 0.5"/>
<text class="r" x="624.5" y="510.6">Conv_layer_2</text><rect x="626" y="507.4" width="9.8" height="3.6" fill="#b9c5dc" stroke="#889" stroke-width="0.4" stroke-dasharray="0.8 0.5"/>
<text class="r" x="634" y="515.1">... 5 more</text>
<line class="ed" x1="635.6" y1="486" x2="643.6" y2="498" marker-end="url(#a)"/>
<line class="ed" x1="635.6" y1="492" x2="643.6" y2="498.2" marker-end="url(#a)"/>
<line class="ed" x1="635.6" y1="497.4" x2="643.6" y2="498.4" marker-end="url(#a)"/>
<line class="ed" x1="636.5" y1="503.2" x2="643.6" y2="498.8" marker-end="url(#a)"/>
<line class="ed" x1="636.5" y1="509.2" x2="643.6" y2="499" marker-end="url(#a)"/>
<line class="ed" x1="635" y1="513.5" x2="643.6" y2="499.2"/>

<text x="699.6" y="492" style="font-size:7px;text-anchor:middle">restore_slice[0-40]</text>
<ellipse class="e" cx="702" cy="498.7" rx="5.5" ry="2.6"/>
<ellipse class="e" cx="699" cy="498.7" rx="5.5" ry="2.6"/>
<ellipse class="e" cx="696.4" cy="498.7" rx="5.5" ry="2.6"/>

<text class="r" x="712.2" y="19.8">Conv_layer_1</text><rect x="713.9" y="17" width="10.3" height="3.2" fill="#b9c5dc" stroke="#889" stroke-width="0.4" stroke-dasharray="0.8 0.5"/>
<text class="r" x="712.2" y="25.6">Conv_layer_2</text><rect x="713.9" y="22.7" width="10.3" height="3.2" fill="#b9c5dc" stroke="#889" stroke-width="0.4" stroke-dasharray="0.8 0.5"/>
<text class="r" x="712.2" y="32.2">Conv_layer_3</text><rect x="713.9" y="29.3" width="10.3" height="3.2" fill="#eef0f5" stroke="#aaa" stroke-width="0.4" stroke-dasharray="0.8 0.5"/>
<text class="r" x="712.2" y="37.6">Conv_layer_4</text><rect class="de" x="713.9" y="34.7" width="10.3" height="3.2"/>
<text class="r" x="712.2" y="43.1">DeepID1</text><rect class="de" x="713.9" y="40.2" width="10.3" height="3.2"/>
<text class="r" x="717" y="48">... 2 more</text>
<path class="dsh" d="M724.5,18.5 L731,30.5 M724.5,24.3 L731,30.7 M724.5,30.9 L731,30.9 M724.5,36.3 L731,31.1 M724.5,41.8 L731,31.3"/>
<line class="ed" x1="719" y1="47" x2="731" y2="31.5"/>
<text class="L" x="739.9" y="26.5">init</text>
<ellipse class="e" cx="738.5" cy="30.9" rx="7" ry="2.6"/>
</svg>
</body></html>
